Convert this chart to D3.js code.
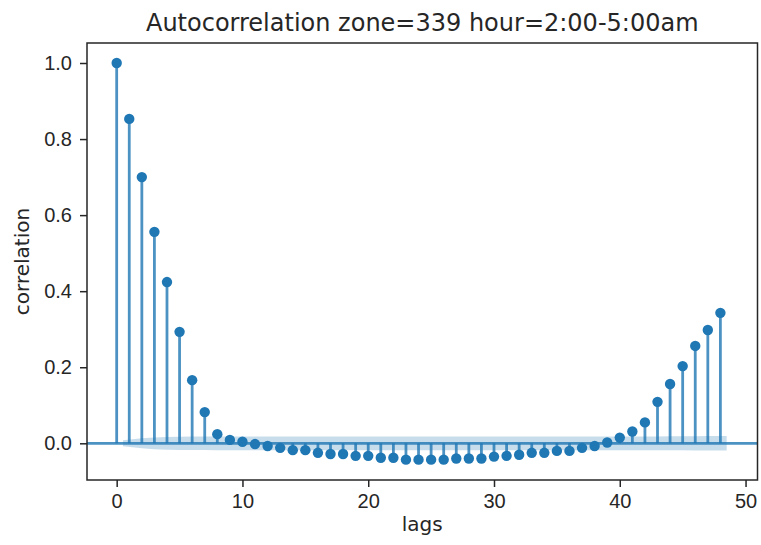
<!DOCTYPE html>
<html lang="en">
<head>
    <meta charset="UTF-8">
    <title>Autocorrelation zone=339</title>
    <script src="https://cdnjs.cloudflare.com/ajax/libs/d3/7.8.5/d3.min.js"></script>
    <style>
        body {
            margin: 0;
            background: white;
            font-family: "DejaVu Sans", sans-serif;
        }
        .tick text {
            font-size: 20px;
            fill: #262626;
        }
        .tick line {
            stroke: #262626;
            stroke-width: 1.5px;
        }
    </style>
</head>
<body>
    <svg width="761" height="545"></svg>

    <script>
        // autocorrelation per lag
        const lags = d3.range(0, 49);
        const acf = [
            1.000, 0.853, 0.700, 0.556, 0.424, 0.293, 0.166, 0.082, 0.024, 0.009,
            0.004, -0.002, -0.007, -0.012, -0.018, -0.018, -0.025, -0.028, -0.028, -0.033,
            -0.033, -0.038, -0.038, -0.043, -0.043, -0.043, -0.043, -0.040, -0.040, -0.040,
            -0.035, -0.033, -0.030, -0.025, -0.025, -0.020, -0.020, -0.012, -0.007, 0.002,
            0.015, 0.031, 0.055, 0.109, 0.156, 0.203, 0.256, 0.298, 0.343
        ];
        // half width of the confidence band, lags 1..48
        const band = [
            0.008, 0.013, 0.0155, 0.0168, 0.0175, 0.0178, 0.0179, 0.018, 0.018, 0.018,
            0.018, 0.018, 0.018, 0.018, 0.018, 0.018, 0.018, 0.018, 0.018, 0.018,
            0.018, 0.018, 0.018, 0.018, 0.018, 0.018, 0.018, 0.018, 0.018, 0.018,
            0.018, 0.018, 0.018, 0.018, 0.018, 0.018, 0.018, 0.018, 0.018, 0.018,
            0.018, 0.0181, 0.0182, 0.0183, 0.0185, 0.0187, 0.0189, 0.019
        ];
        const xTicks = [0, 10, 20, 30, 40, 50];
        const yTicks = [0.0, 0.2, 0.4, 0.6, 0.8, 1.0];

        const box = { left: 87, right: 757.5, top: 43, bottom: 480 };
        const blue = "#1f77b4";

        const x = d3.scaleLinear().domain([-2.36, 50.95]).range([box.left, box.right]);
        const y = d3.scaleLinear().domain([-0.0965, 1.0526]).range([box.bottom, box.top]);

        const svg = d3.select("svg");

        svg.append("clipPath").attr("id", "clip")
            .append("rect")
            .attr("x", box.left).attr("y", box.top)
            .attr("width", box.right - box.left).attr("height", box.bottom - box.top);

        const plot = svg.append("g").attr("clip-path", "url(#clip)");

        // confidence band (first and last positions pushed out half a lag)
        const bandPts = band.map((b, i) => {
            let lag = i + 1;
            if (i === 0) lag -= 0.5;
            if (i === band.length - 1) lag += 0.5;
            return { lag: lag, b: b };
        });
        plot.append("path")
            .datum(bandPts)
            .attr("fill", blue)
            .attr("fill-opacity", 0.25)
            .attr("d", d3.area()
                .x(d => x(d.lag))
                .y0(d => y(-d.b))
                .y1(d => y(d.b)));

        // stems
        plot.selectAll(".stem")
            .data(lags)
            .enter()
            .append("line")
            .attr("class", "stem")
            .attr("x1", d => x(d))
            .attr("x2", d => x(d))
            .attr("y1", y(0))
            .attr("y2", d => y(acf[d]))
            .attr("stroke", blue)
            .attr("stroke-opacity", 0.8)
            .attr("stroke-width", 2.8);

        // zero line
        plot.append("line")
            .attr("x1", box.left).attr("x2", box.right)
            .attr("y1", y(0)).attr("y2", y(0))
            .attr("stroke", blue)
            .attr("stroke-opacity", 0.8)
            .attr("stroke-width", 2.8);

        // markers
        plot.selectAll(".dot")
            .data(lags)
            .enter()
            .append("circle")
            .attr("class", "dot")
            .attr("cx", d => x(d))
            .attr("cy", d => y(acf[d]))
            .attr("r", 5.2)
            .attr("fill", blue);

        // axes
        svg.append("g")
            .attr("transform", `translate(0,${box.bottom})`)
            .call(d3.axisBottom(x).tickValues(xTicks).tickFormat(d3.format("d")).tickSize(7).tickPadding(7))
            .call(g => g.select(".domain").remove())
            .selectAll("text").attr("dy", "0.72em");

        svg.append("g")
            .attr("transform", `translate(${box.left},0)`)
            .call(d3.axisLeft(y).tickValues(yTicks).tickFormat(d3.format(".1f")).tickSize(7).tickPadding(8))
            .call(g => g.select(".domain").remove());

        svg.append("rect")
            .attr("x", box.left).attr("y", box.top)
            .attr("width", box.right - box.left).attr("height", box.bottom - box.top)
            .attr("fill", "none")
            .attr("stroke", "#262626")
            .attr("stroke-width", 1.5);

        // title and labels
        svg.append("text")
            .attr("x", (box.left + box.right) / 2)
            .attr("y", 31)
            .attr("text-anchor", "middle")
            .style("font-size", "24px")
            .style("fill", "#262626")
            .text("Autocorrelation zone=339 hour=2:00-5:00am");

        svg.append("text")
            .attr("x", (box.left + box.right) / 2)
            .attr("y", 531)
            .attr("text-anchor", "middle")
            .style("font-size", "20px")
            .style("fill", "#262626")
            .text("lags");

        svg.append("text")
            .attr("transform", `translate(29,${(box.top + box.bottom) / 2}) rotate(-90)`)
            .attr("text-anchor", "middle")
            .style("font-size", "20px")
            .style("fill", "#262626")
            .text("correlation");
    </script>
</body>
</html>
